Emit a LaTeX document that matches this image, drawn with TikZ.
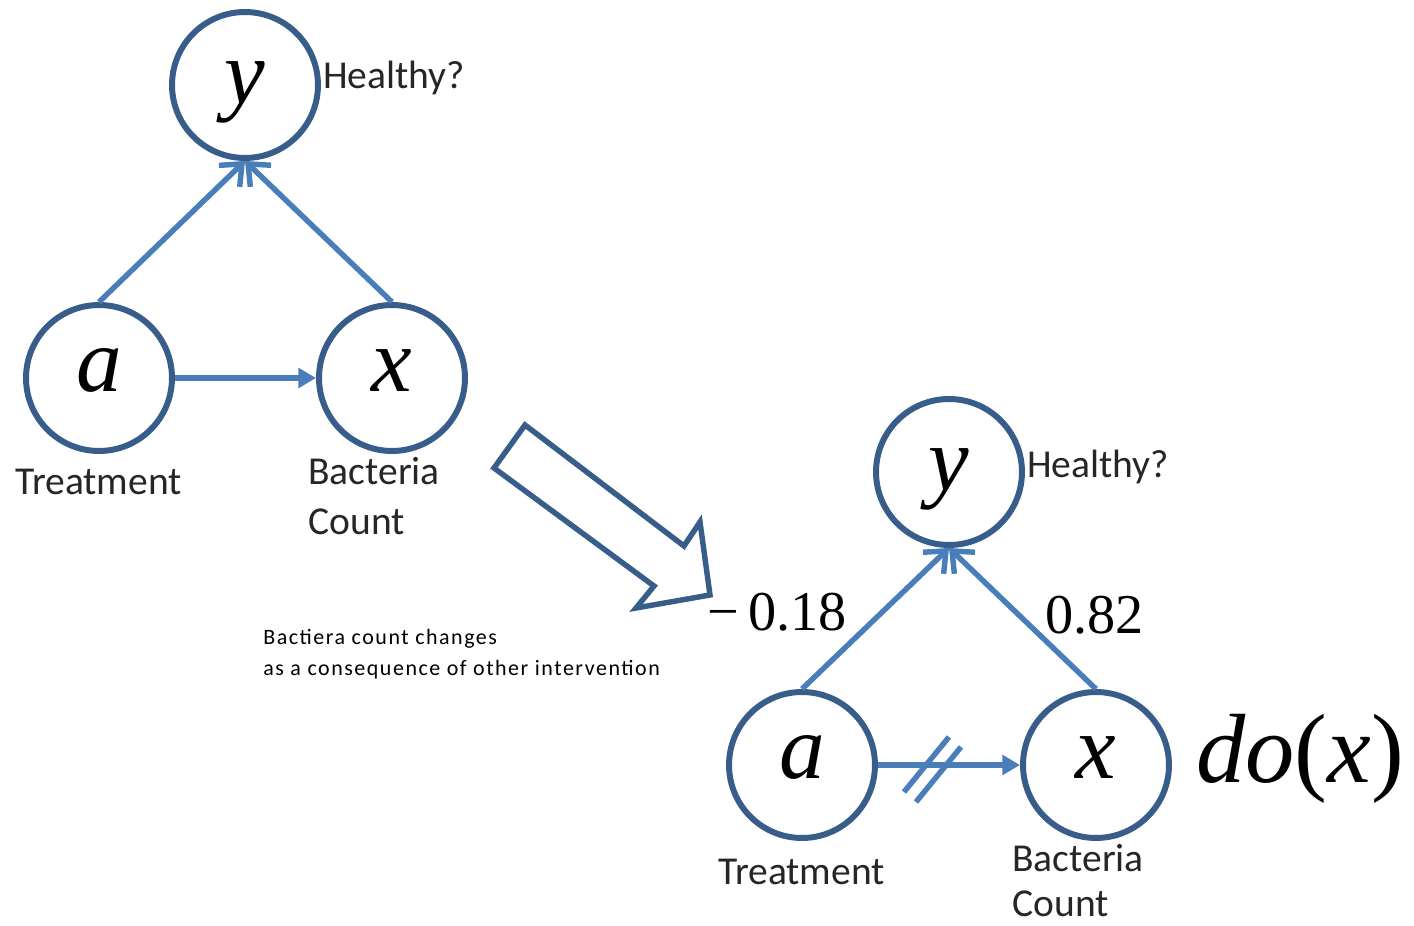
\documentclass[tikz,border=0pt]{standalone}
\usepackage{fontspec}
\setmainfont{Liberation Serif}
\newfontfamily\calib{Carlito}
\newfontfamily\calibwide[LetterSpace=7]{Carlito}
\usetikzlibrary{arrows.meta,calc}
\definecolor{ringblue}{HTML}{385D8A}
\definecolor{linkblue}{HTML}{4A7EBB}
\begin{document}
\begin{tikzpicture}[x=0.02cm,y=-0.02cm,
  var/.style={circle,draw=ringblue,line width=3.4pt,minimum size=2.92cm,inner sep=0pt,
              text height=14.8pt,text depth=0pt,
              font=\fontsize{52}{56}\selectfont\itshape},
  low/.style={text height=21pt},
  lbl/.style={inner sep=0pt,anchor=base west,font=\calib\fontsize{22.5}{28}\selectfont,text=black!85},
  num/.style={inner sep=0pt,anchor=base west,font=\fontsize{32}{36}\selectfont},
  note/.style={inner sep=0pt,anchor=base west,font=\calibwide\fontsize{12.5}{17.6}\selectfont,align=left},
  cause/.style={draw=linkblue,line width=3.1pt,-{Straight Barb[length=10pt,width=17pt,line width=3.1pt]}},
  direct/.style={draw=linkblue,line width=3.1pt,-{Triangle[length=10pt,width=11pt]}},
  cut/.style={draw=linkblue,line width=3.1pt}]
\useasboundingbox (0,0) rectangle (1414,926);

% original model
\node[var,low] (y1) at (245,85) {y};
\node[var] (a1) at (99,378) {a};
\node[var] (x1) at (392,378) {x};
\draw[cause] (a1.north) -- (y1.south);
\draw[cause] (x1.north) -- (y1.south);
\draw[direct] (a1.east) -- (x1.west);
\node[lbl] (h1) at (323,89) {Healthy?};
\node[lbl] (t1) at (15,494) {Treatment};
\node[lbl] (b1) at (308,484) {Bacteria};
\node[lbl] (c1) at (308,534) {Count};

% hollow block arrow
\draw[ringblue,line width=3.1pt,line join=miter]
  (525,425) -- (494,468) -- (654,586) -- (636,608) -- (710,595)
  -- (700,522) -- (684,546) -- cycle;

\node[note] (n) at (263,675) {Bactiera count changes\\as a consequence of other intervention};

% intervened model
\node[var,low] (y2) at (949,472) {y};
\node[var] (a2) at (802,765) {a};
\node[var] (x2) at (1096,765) {x};
\draw[cause] (a2.north) -- (y2.south);
\draw[cause] (x2.north) -- (y2.south);
\draw[direct] (a2.east) -- (x2.west);
\coordinate (cm) at ($(a2.east)!0.38!(x2.west)$);
\draw[cut] ($(cm)+(-28,27)$) -- ($(cm)+(17,-28)$);
\draw[cut] ($(cm)+(-16,37)$) -- ($(cm)+(29,-18)$);
\node[lbl] (h2) at (1027,477) {Healthy?};
\node[lbl] (t2) at (718,884) {Treatment};
\node[lbl] (b2) at (1012,871) {Bacteria};
\node[lbl] (c2) at (1012,916) {Count};
\node[num] (w1) at (707,630) {−\,0.18};
\node[num] (w2) at (1045,633) {0.82};
\node[inner sep=0pt,anchor=base west,font=\fontsize{56}{60}\selectfont] (dx) at (1196,782) {\textit{do}(\textit{x})};
\end{tikzpicture}
\end{document}
